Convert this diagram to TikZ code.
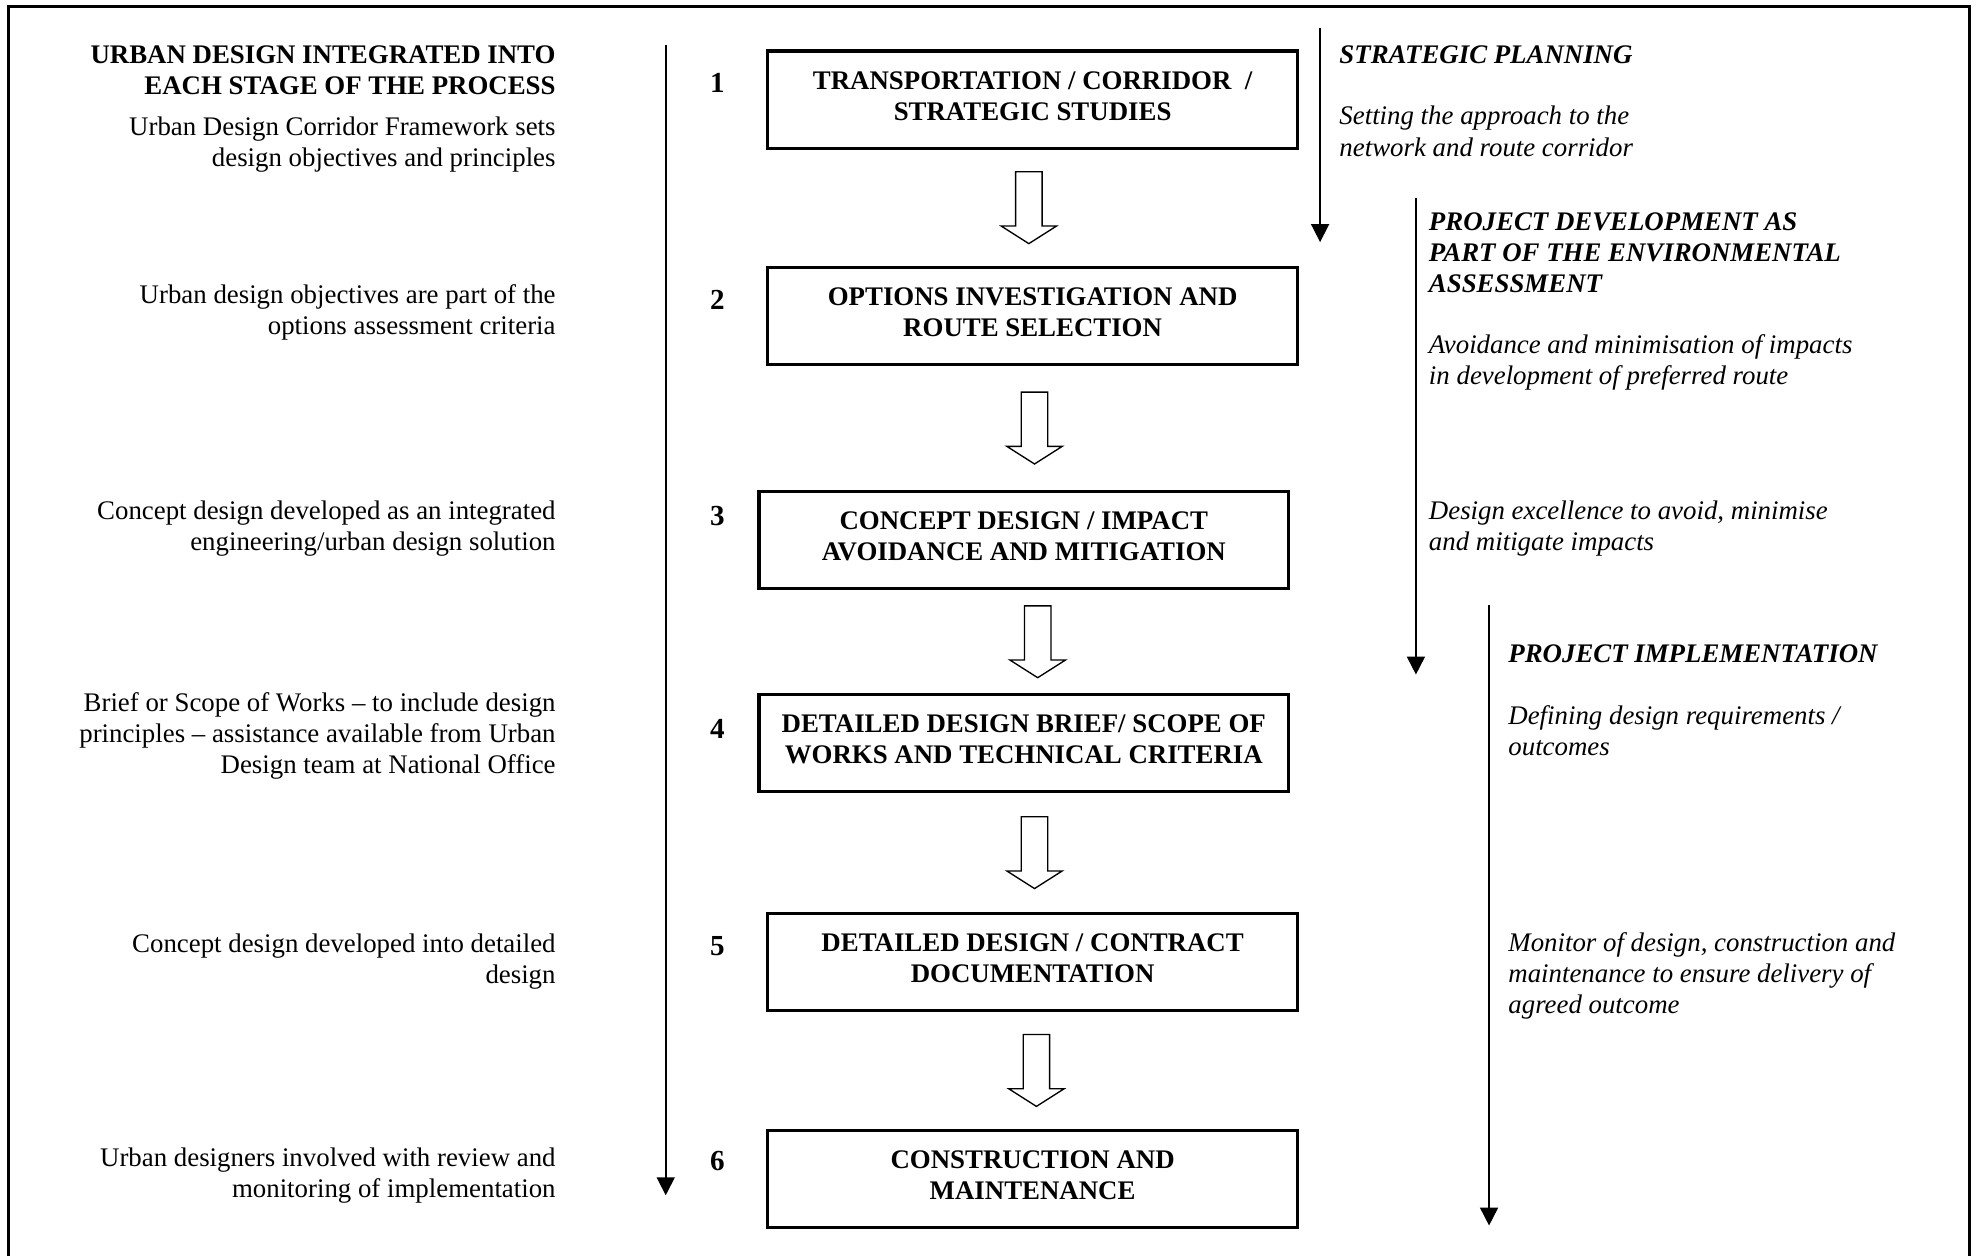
\documentclass[tikz,border=0pt]{standalone}
\usepackage{fontspec}
\setmainfont{Liberation Serif}
\usetikzlibrary{arrows.meta,calc,positioning}
\newcommand{\basesize}{\fontsize{12}{13.9}\selectfont}
\tikzset{>={Triangle[length=8pt,width=8pt]},
  stagebox/.style={draw,line width=1.4pt,minimum width=236.8pt,
    minimum height=43.4pt,align=center,inner sep=2pt,text depth=3.5pt,
    font=\basesize\bfseries},
  stagenum/.style={inner sep=0pt,font=\fontsize{13}{15}\selectfont\bfseries},
  leftnote/.style={anchor=north east,align=right,inner sep=0pt,font=\basesize},
  lefthead/.style={leftnote,font=\basesize\bfseries},
  rightnote/.style={anchor=north west,align=left,inner sep=0pt,
    font=\basesize\itshape},
  phasehead/.style={rightnote,font=\basesize\bfseries\itshape},
  flowline/.style={->,line width=0.8pt},
  hollowdown/.pic={
    \draw[line width=0.6pt,fill=white,line join=miter]
      (-10.5,-28.5) -- (10.5,-28.5) -- (10.5,14.5) -- (22,14.5)
      -- (0,28.5) -- (-22,14.5) -- (-10.5,14.5) -- cycle;}}

\begin{document}
\begin{tikzpicture}[x=0.5637pt,y=-0.5637pt]
  \useasboundingbox (0,0) rectangle (1568,996);

  % frame, open at the foot
  \draw [line width=1.2pt] (7,996) -- (7,5) -- (1562,5) -- (1562,996);

  % stages
  \node [stagebox] (b1) at (819,79) {TRANSPORTATION / CORRIDOR\ \ / \\ STRATEGIC STUDIES};
  \node [stagebox] (b2) at (819,250.5) {OPTIONS INVESTIGATION AND \\ ROUTE SELECTION};
  \node [stagebox] (b3) at (812,428.5) {CONCEPT DESIGN / IMPACT \\ AVOIDANCE AND MITIGATION};
  \node [stagebox] (b4) at (812,589.5) {DETAILED DESIGN BRIEF/ SCOPE OF \\ WORKS AND TECHNICAL CRITERIA};
  \node [stagebox] (b5) at (819,763) {DETAILED DESIGN / CONTRACT \\ DOCUMENTATION};
  \node [stagebox] (b6) at (819,935) {CONSTRUCTION AND \\ MAINTENANCE};

  \foreach \a/\b/\dx in {b1/b2/-3,b2/b3/5,b3/b4/11,b4/b5/5,b5/b6/3}
    \pic at ($(\a.south)!.5!(\b.north)+(\dx,0)$) {hollowdown};

  % stage numbers
  \node [stagenum] (n1) at (569,66) {1};
  \node [stagenum] (n2) at (569,238) {2};
  \node [stagenum] (n3) at (569,409) {3};
  \node [stagenum] (n4) at (569,578) {4};
  \node [stagenum] (n5) at (569,750) {5};
  \node [stagenum] (n6) at (569,921) {6};

  % urban design column
  \node [lefthead] (uhead) at (441,36) {URBAN DESIGN INTEGRATED INTO\\EACH STAGE OF THE PROCESS};
  \node [leftnote] (u1) at (441,92) {Urban Design Corridor Framework sets\\design objectives and principles};
  \node [leftnote] (u2) at (441,225) {Urban design objectives are part of the\\options assessment criteria};
  \node [leftnote] (u3) at (441,397) {Concept design developed as an integrated\\engineering/urban design solution};
  \node [leftnote] (u4) at (441,549) {Brief or Scope of Works -- to include design\\principles -- assistance available from Urban\\Design team at National Office};
  \node [leftnote] (u5) at (441,740) {Concept design developed into detailed\\design};
  \node [leftnote] (u6) at (441,910) {Urban designers involved with review and\\monitoring of implementation};

  \coordinate (utop) at (528,36);
  \coordinate (uend) at (528,948);
  \draw [flowline] (utop) -- (uend);

  % phases
  \coordinate (sptop) at (1047,22);
  \coordinate (spend) at (1047,192);
  \draw [flowline] (sptop) -- (spend);
  \node [phasehead] (sp) at (1062,36) {STRATEGIC PLANNING};
  \node [rightnote] (sp1) at (1062,84) {Setting the approach to the\\network and route corridor};

  \coordinate (pdtop) at (1123,157);
  \coordinate (pdend) at (1123,535);
  \draw [flowline] (pdtop) -- (pdend);
  \node [phasehead] (pd) at (1133,168) {PROJECT DEVELOPMENT AS\\PART OF THE ENVIRONMENTAL\\ASSESSMENT};
  \node [rightnote] (pd1) at (1133,265) {Avoidance and minimisation of impacts\\in development of preferred route};
  \node [rightnote] (pd2) at (1133,397) {Design excellence to avoid, minimise\\and mitigate impacts};

  \coordinate (pitop) at (1181,480);
  \coordinate (piend) at (1181,972);
  \draw [flowline] (pitop) -- (piend);
  \node [phasehead] (pi) at (1196,511) {PROJECT IMPLEMENTATION};
  \node [rightnote] (pi1) at (1196,559) {Defining design requirements /\\outcomes};
  \node [rightnote] (pi2) at (1196,739) {Monitor of design, construction and\\maintenance to ensure delivery of\\agreed outcome};

\end{tikzpicture}
\end{document}
